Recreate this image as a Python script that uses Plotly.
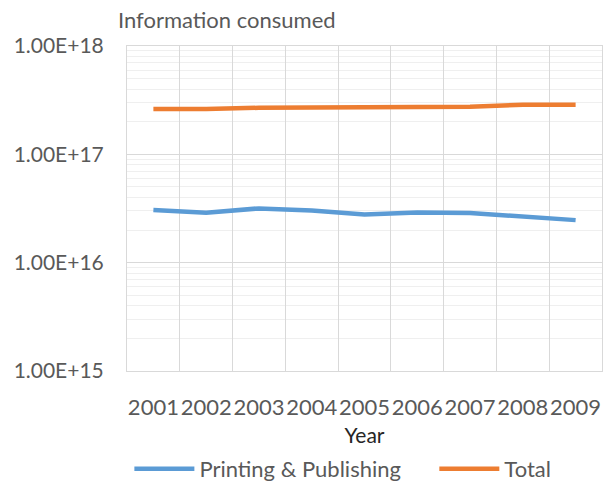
import plotly.graph_objects as go

years = ["2001", "2002", "2003", "2004", "2005", "2006", "2007", "2008", "2009"]
printing = [3.06e16, 2.89e16, 3.17e16, 3.03e16, 2.79e16, 2.91e16, 2.88e16, 2.69e16, 2.47e16]
total = [2.62e17, 2.62e17, 2.69e17, 2.70e17, 2.69e17, 2.70e17, 2.75e17, 2.87e17, 2.87e17]

y_ticks = [1e15, 1e16, 1e17, 1e18]
y_tick_text = ["1.00E+15", "1.00E+16", "1.00E+17", "1.00E+18"]

FONT = "Lato"
GREY = "#595959"

# minor gridlines at 2..9 times each decade
minor_vals = [m * d for d in (1e15, 1e16, 1e17) for m in range(2, 10)]

fig = go.Figure()
fig.add_trace(go.Scatter(x=years, y=printing, mode="lines", name="Printing & Publishing",
                         line=dict(color="#5B9BD5", width=4.5), legend="legend"))
fig.add_trace(go.Scatter(x=years, y=total, mode="lines", name="Total",
                         line=dict(color="#ED7D31", width=4.5), legend="legend2"))

legend_common = dict(orientation="h", xanchor="left", y=-0.3015, yanchor="middle",
                     font=dict(family=FONT, size=22, color=GREY), itemwidth=60,
                     bgcolor="rgba(0,0,0,0)")

fig.update_layout(
    width=608, height=481,
    margin=dict(l=127, r=6, t=46, b=110, autoexpand=False),
    paper_bgcolor="white", plot_bgcolor="white",
    font=dict(family=FONT, color=GREY, size=21),
    title=dict(text="Information consumed", x=118 / 608, xanchor="left",
               y=1 - 20 / 481, yanchor="middle",
               font=dict(family=FONT, size=22, color=GREY)),
    legend=dict(x=0.005, **legend_common),
    legend2=dict(x=0.647, **legend_common),
    showlegend=True,
)

fig.update_xaxes(
    type="category", range=[-0.5, 8.5], tickson="boundaries", tickangle=0,
    showgrid=True, gridcolor="#d9d9d9", gridwidth=1, automargin=False,
    showline=True, linecolor="#d9d9d9", mirror=True, ticks="",
    tickfont=dict(family=FONT, size=22, color=GREY), ticklabelstandoff=17,
    title=dict(text="Year", font=dict(family=FONT, size=21, color="#262626"), standoff=8),
    zeroline=False,
)
fig.update_yaxes(
    type="log", range=[15, 18], tickvals=y_ticks, ticktext=y_tick_text,
    showgrid=True, gridcolor="#d9d9d9", gridwidth=1, automargin=False,
    minor=dict(tickmode="array", tickvals=minor_vals, showgrid=True, gridcolor="#efefef", ticks=""),
    showline=True, linecolor="#d9d9d9", mirror=True, ticks="",
    tickfont=dict(family=FONT, size=21, color=GREY), ticklabelstandoff=18,
    zeroline=False,
)

fig.write_html("out.html")
